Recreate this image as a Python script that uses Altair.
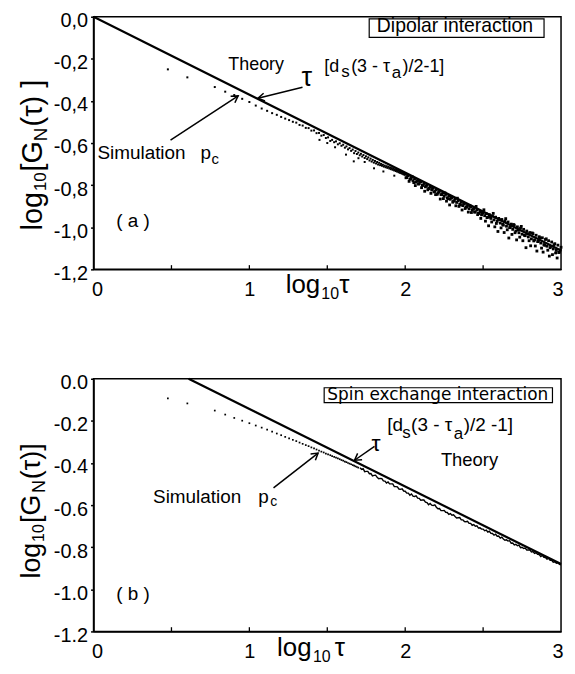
import altair as alt
import pandas as pd

FONT = "Liberation Sans"
FONT_B = "DejaVu Sans"

# ---------------- axes ----------------
x_tick_labels = [0, 1, 2, 3]
x_minor_ticks = [0.5, 1.0, 1.5, 2.0, 2.5]
y_tick_values = [0.0, -0.2, -0.4, -0.6, -0.8, -1.0, -1.2]

# ---------------- panel (a): dipolar ----------------
theory_a_x = [0.0, 3.0]
theory_a_y = [0.0, -1.11]

sim_a_x = [0.477, 0.602, 0.778, 0.845, 0.903, 0.954, 1.000,
           1.041, 1.079, 1.114, 1.146, 1.176, 1.204, 1.230, 1.255, 1.279, 1.301,
           1.322, 1.342, 1.362, 1.380, 1.398, 1.415, 1.431, 1.447, 1.462, 1.477,
           1.491, 1.505, 1.519, 1.531, 1.544, 1.556, 1.568, 1.580, 1.591, 1.602,
           1.613, 1.623, 1.633, 1.643, 1.653, 1.663, 1.672, 1.681, 1.690, 1.699,
           1.708, 1.716, 1.724, 1.732, 1.740, 1.748, 1.756, 1.763, 1.771, 1.778,
           1.785, 1.792, 1.799, 1.806, 1.813, 1.820, 1.826, 1.833, 1.839, 1.845,
           1.851, 1.857, 1.863, 1.869, 1.875, 1.881, 1.886, 1.892, 1.898, 1.903,
           1.908, 1.914, 1.919, 1.924, 1.929, 1.934, 1.940, 1.944, 1.949, 1.954,
           1.959, 1.964, 1.968, 1.973, 1.978, 1.982, 1.987, 1.991, 1.996]
sim_a_y = [-0.250, -0.288, -0.334, -0.356, -0.372, -0.390, -0.405,
           -0.422, -0.436, -0.447, -0.458, -0.466, -0.476, -0.484, -0.491, -0.499, -0.503,
           -0.514, -0.517, -0.528, -0.529, -0.541, -0.540, -0.553, -0.552, -0.565, -0.562,
           -0.576, -0.573, -0.590, -0.585, -0.596, -0.592, -0.606, -0.601, -0.613, -0.608,
           -0.622, -0.616, -0.630, -0.624, -0.637, -0.631, -0.648, -0.638, -0.652, -0.645,
           -0.658, -0.651, -0.664, -0.657, -0.671, -0.663, -0.676, -0.668, -0.683, -0.674,
           -0.688, -0.680, -0.693, -0.685, -0.697, -0.690, -0.702, -0.694, -0.705, -0.699,
           -0.708, -0.703, -0.712, -0.707, -0.715, -0.710, -0.718, -0.713, -0.721, -0.716,
           -0.724, -0.719, -0.727, -0.722, -0.730, -0.725, -0.733, -0.728, -0.736, -0.731,
           -0.739, -0.734, -0.742, -0.737, -0.745, -0.740, -0.748, -0.743, -0.750]

sim_a_stray_x = [1.45, 1.50, 1.55, 1.62, 1.67, 1.70, 1.74, 1.80, 1.86, 1.93]
sim_a_stray_y = [-0.585, -0.600, -0.620, -0.655, -0.687, -0.672, -0.690, -0.720, -0.735, -0.755]

cloud1_x = [2.00, 2.01, 2.02, 2.03, 2.04, 2.05, 2.06, 2.07, 2.08, 2.09,
            2.10, 2.11, 2.12, 2.13, 2.14, 2.15, 2.16, 2.17, 2.18, 2.19,
            2.20, 2.21, 2.22, 2.23, 2.24, 2.25, 2.26, 2.27, 2.28, 2.29,
            2.30, 2.31, 2.32, 2.33, 2.34, 2.35, 2.36, 2.37, 2.38, 2.39,
            2.40, 2.41, 2.42, 2.43, 2.44, 2.45, 2.46, 2.47, 2.48, 2.49,
            2.50, 2.51, 2.52, 2.53, 2.54, 2.55, 2.56, 2.57, 2.58, 2.59,
            2.60, 2.61, 2.62, 2.63, 2.64, 2.65, 2.66, 2.67, 2.68, 2.69,
            2.70, 2.71, 2.72, 2.73, 2.74, 2.75, 2.76, 2.77, 2.78, 2.79,
            2.80, 2.81, 2.82, 2.83, 2.84, 2.85, 2.86, 2.87, 2.88, 2.89,
            2.90, 2.91, 2.92, 2.93, 2.94, 2.95, 2.96, 2.97, 2.98, 2.99, 3.00]
cloud1_y = [-0.748, -0.764, -0.755, -0.771, -0.763, -0.779, -0.770, -0.786, -0.778, -0.793,
            -0.785, -0.801, -0.792, -0.808, -0.800, -0.816, -0.807, -0.823, -0.815, -0.830,
            -0.822, -0.838, -0.829, -0.845, -0.837, -0.853, -0.844, -0.860, -0.852, -0.867,
            -0.859, -0.875, -0.866, -0.882, -0.874, -0.890, -0.881, -0.897, -0.889, -0.904,
            -0.896, -0.912, -0.903, -0.919, -0.911, -0.927, -0.918, -0.934, -0.926, -0.941,
            -0.933, -0.945, -0.935, -0.952, -0.940, -0.958, -0.946, -0.965, -0.952, -0.972,
            -0.958, -0.980, -0.963, -0.990, -0.970, -0.995, -0.975, -1.002, -0.985, -1.010,
            -0.990, -1.018, -0.998, -1.026, -1.004, -1.033, -1.010, -1.040, -1.018, -1.046,
            -1.025, -1.055, -1.030, -1.060, -1.038, -1.068, -1.045, -1.075, -1.050, -1.082,
            -1.058, -1.090, -1.064, -1.097, -1.070, -1.103, -1.078, -1.110, -1.085, -1.118, -1.095]

cloud2_x = [2.005, 2.015, 2.025, 2.035, 2.045, 2.055, 2.065, 2.075, 2.085, 2.095,
            2.105, 2.115, 2.125, 2.135, 2.145, 2.155, 2.165, 2.175, 2.185, 2.195,
            2.205, 2.215, 2.225, 2.235, 2.245, 2.255, 2.265, 2.275, 2.285, 2.295,
            2.305, 2.315, 2.325, 2.335, 2.345, 2.355, 2.365, 2.375, 2.385, 2.395,
            2.405, 2.415, 2.425, 2.435, 2.445, 2.455, 2.465, 2.475, 2.485, 2.495,
            2.505, 2.515, 2.525, 2.535, 2.545, 2.555, 2.565, 2.575, 2.585, 2.595,
            2.605, 2.615, 2.625, 2.635, 2.645, 2.655, 2.665, 2.675, 2.685, 2.695,
            2.705, 2.715, 2.725, 2.735, 2.745, 2.755, 2.765, 2.775, 2.785, 2.795,
            2.805, 2.815, 2.825, 2.835, 2.845, 2.855, 2.865, 2.875, 2.885, 2.895,
            2.905, 2.915, 2.925, 2.935, 2.945, 2.955, 2.965, 2.975, 2.985, 2.995]
cloud2_y = [-0.765, -0.754, -0.782, -0.771, -0.760, -0.788, -0.802, -0.781, -0.795, -0.783,
            -0.812, -0.801, -0.829, -0.803, -0.822, -0.815, -0.839, -0.813, -0.832, -0.845,
            -0.844, -0.833, -0.866, -0.845, -0.864, -0.837, -0.876, -0.865, -0.894, -0.857,
            -0.881, -0.875, -0.898, -0.862, -0.901, -0.894, -0.918, -0.887, -0.911, -0.904,
            -0.928, -0.897, -0.930, -0.914, -0.928, -0.901, -0.940, -0.934, -0.958, -0.931,
            -0.917, -0.971, -0.954, -0.993, -0.952, -0.975, -0.934, -0.998, -0.982, -1.020,
            -0.964, -1.003, -0.986, -1.025, -0.959, -1.012, -1.051, -1.000, -1.034, -0.987,
            -1.026, -1.060, -1.013, -1.047, -0.996, -1.064, -1.038, -1.097, -1.031, -1.064,
            -1.088, -1.027, -1.065, -1.089, -1.113, -1.066, -1.050, -1.099, -1.118, -1.086,
            -1.055, -1.109, -1.137, -1.091, -1.130, -1.083, -1.122, -1.146, -1.120, -1.108]

# ---------------- panel (b): spin exchange ----------------
theory_b_x = [0.61, 3.0]
theory_b_y = [0.0, -0.88]

sim_b_x = [0.477, 0.602, 0.778, 0.845, 0.903, 0.954, 1.000,
           1.041, 1.079, 1.114, 1.146, 1.176, 1.204, 1.230, 1.255, 1.279, 1.301,
           1.322, 1.342, 1.362, 1.380, 1.398, 1.415, 1.431, 1.447, 1.462, 1.477,
           1.491, 1.505, 1.519, 1.531, 1.544, 1.556, 1.568, 1.580, 1.591, 1.602,
           1.613, 1.623, 1.633, 1.643, 1.653, 1.663, 1.672, 1.681, 1.690, 1.699]
sim_b_y = [-0.093, -0.117, -0.151, -0.170, -0.186, -0.199, -0.211,
           -0.222, -0.232, -0.242, -0.251, -0.260, -0.268, -0.276, -0.283, -0.290, -0.296,
           -0.303, -0.309, -0.315, -0.320, -0.326, -0.331, -0.336, -0.341, -0.346, -0.350,
           -0.355, -0.359, -0.363, -0.367, -0.371, -0.375, -0.378, -0.382, -0.386, -0.389,
           -0.393, -0.396, -0.400, -0.403, -0.406, -0.410, -0.413, -0.416, -0.419, -0.422]

simline_b_x = [1.71, 1.72, 1.73, 1.74, 1.75, 1.76, 1.77, 1.78, 1.79, 1.80,
               1.81, 1.82, 1.83, 1.84, 1.85, 1.86, 1.87, 1.88, 1.89, 1.90,
               1.91, 1.92, 1.93, 1.94, 1.95, 1.96, 1.97, 1.98, 1.99,
               2.00, 2.01, 2.02, 2.03, 2.04, 2.05, 2.06, 2.07, 2.08, 2.09,
               2.10, 2.11, 2.12, 2.13, 2.14, 2.15, 2.16, 2.17, 2.18, 2.19,
               2.20, 2.21, 2.22, 2.23, 2.24, 2.25, 2.26, 2.27, 2.28, 2.29,
               2.30, 2.31, 2.32, 2.33, 2.34, 2.35, 2.36, 2.37, 2.38, 2.39,
               2.40, 2.41, 2.42, 2.43, 2.44, 2.45, 2.46, 2.47, 2.48, 2.49,
               2.50, 2.51, 2.52, 2.53, 2.54, 2.55, 2.56, 2.57, 2.58, 2.59,
               2.60, 2.61, 2.62, 2.63, 2.64, 2.65, 2.66, 2.67, 2.68, 2.69,
               2.70, 2.71, 2.72, 2.73, 2.74, 2.75, 2.76, 2.77, 2.78, 2.79,
               2.80, 2.81, 2.82, 2.83, 2.84, 2.85, 2.86, 2.87, 2.88, 2.89,
               2.90, 2.91, 2.92, 2.93, 2.94, 2.95, 2.96, 2.97, 2.98, 2.99, 3.00]
simline_b_y = [-0.423, -0.430, -0.427, -0.441, -0.440, -0.440, -0.451, -0.450, -0.461, -0.459,
               -0.458, -0.468, -0.475, -0.473, -0.474, -0.485, -0.486, -0.495, -0.490, -0.499,
               -0.499, -0.499, -0.512, -0.512, -0.513, -0.524, -0.525, -0.523, -0.533,
               -0.534, -0.543, -0.543, -0.553, -0.547, -0.557, -0.559, -0.556, -0.567, -0.568,
               -0.577, -0.576, -0.576, -0.586, -0.588, -0.598, -0.592, -0.600, -0.602, -0.599,
               -0.610, -0.617, -0.616, -0.626, -0.626, -0.625, -0.634, -0.635, -0.644, -0.640,
               -0.648, -0.646, -0.654, -0.661, -0.660, -0.659, -0.670, -0.670, -0.678, -0.679,
               -0.677, -0.687, -0.687, -0.696, -0.693, -0.700, -0.698, -0.709, -0.708, -0.714,
               -0.714, -0.722, -0.719, -0.728, -0.724, -0.734, -0.735, -0.743, -0.738, -0.748,
               -0.747, -0.757, -0.752, -0.761, -0.767, -0.765, -0.771, -0.769, -0.781, -0.780,
               -0.789, -0.786, -0.793, -0.790, -0.802, -0.800, -0.806, -0.804, -0.813, -0.813,
               -0.812, -0.823, -0.821, -0.829, -0.826, -0.834, -0.835, -0.844, -0.839, -0.848,
               -0.849, -0.857, -0.853, -0.862, -0.862, -0.871, -0.869, -0.876, -0.874, -0.882, -0.884]

# ---------------- annotations (data coordinates) ----------------
txt_a = ["Theory", "τ", "[d", "s", "(3 - τ", "a", ")/2-1]",
         "Simulation", "p", "c", "( a )", "Dipolar interaction",
         "log", "10", "[G", "N", "(τ) ]",
         "log", "10", "τ"]
txt_a_x = [0.865, 1.335, 1.481, 1.589, 1.653, 1.914, 1.983,
           0.025, 0.687, 0.757, 0.146, 1.818,
           -0.331, -0.305, -0.331, -0.299, -0.331,
           1.233, 1.462, 1.577]
txt_a_y = [-0.255, -0.330, -0.262, -0.286, -0.262, -0.290, -0.262,
           -0.675, -0.675, -0.698, -1.000, -0.072,
           -1.015, -0.828, -0.735, -0.591, -0.521,
           -1.313, -1.341, -1.313]
txt_a_size = [18, 27, 18, 17, 18, 17, 18,
              19, 19, 15, 19, 19.5,
              29, 17, 29, 19, 29,
              26, 16, 26]
txt_a_angle = [0, 0, 0, 0, 0, 0, 0,
               0, 0, 0, 0, 0,
               270, 270, 270, 270, 270,
               0, 0, 0]

txt_b = ["Theory", "τ", "[d", "s", "(3  - τ", "a", ")/2 -1]",
         "Simulation", "p", "c", "( b )",
         "log", "10", "[G", "N", "(τ)]",
         "log", "10", "τ"]
txt_b_x = [2.229, 1.783, 1.885, 1.981, 2.038, 2.312, 2.376,
           0.382, 1.057, 1.134, 0.146,
           -0.344, -0.318, -0.344, -0.312, -0.344,
           1.178, 1.408, 1.548]
txt_b_y = [-0.412, -0.345, -0.250, -0.283, -0.250, -0.288, -0.250,
           -0.590, -0.590, -0.605, -1.049,
           -0.949, -0.775, -0.685, -0.543, -0.477,
           -1.318, -1.346, -1.318]
txt_b_size = [18.5, 23, 19, 17, 19, 17, 19,
              19, 19, 14, 19,
              27, 16, 27, 18, 27,
              26, 16, 26]
txt_b_angle = [0, 0, 0, 0, 0, 0, 0,
               0, 0, 0, 0,
               270, 270, 270, 270, 270,
               0, 0, 0]

box_b_text = ["Spin exchange interaction"]
box_b_text_x = [1.500]
box_b_text_y = [-0.101]

box_a = dict(x=[1.769], x2=[2.891], y=[-0.010], y2=[-0.098])
box_b = dict(x=[1.480], x2=[2.945], y=[-0.0425], y2=[-0.113])

# arrows: tail (x, y) -> head (x2, y2), head direction in degrees
arrow_a = dict(x=[1.341, 0.494], y=[-0.335, -0.586],
               x2=[1.055, 0.928], y2=[-0.387, -0.376], ang=[169.5, 326.6])
arrow_b = dict(x=[1.803, 1.155], y=[-0.321, -0.518],
               x2=[1.675, 1.441], y2=[-0.387, -0.353], ang=[145.0, 322.0])

# ---------------- chart building ----------------
xs = alt.Scale(domain=[0, 3], nice=False, zero=False)
ys = alt.Scale(domain=[-1.2, 0], nice=False, zero=False)

x_axis = alt.Axis(values=x_tick_labels, format="d", title=None, grid=False, ticks=False,
                  labelFlush=True, labelFlushOffset=2, labelPadding=10, labelFontSize=20,
                  labelFont=FONT, labelColor="black", domainColor="black", domainWidth=1.5)


def y_axis(expr):
    return alt.Axis(values=y_tick_values, labelExpr=expr, title=None, grid=False,
                    tickSize=3, tickColor="black", tickWidth=1.5, labelPadding=3,
                    labelOffset=4, labelFontSize=20, labelFont=FONT, labelColor="black",
                    domainColor="black", domainWidth=1.5)


def X(f="x"):
    return alt.X(f"{f}:Q", scale=xs, axis=x_axis)


def make_panel(yax, theory_x, theory_y, point_sets, line_set, box, txt, box_txt, arrows, h):
    layers = []

    def Y(f="y"):
        return alt.Y(f"{f}:Q", scale=ys, axis=yax)

    layers.append(alt.Chart(pd.DataFrame({"x": theory_x, "y": theory_y}))
                  .mark_line(color="black", strokeWidth=2.2).encode(x=X(), y=Y()))
    if line_set is not None:
        layers.append(alt.Chart(pd.DataFrame({"x": line_set[0], "y": line_set[1]}))
                      .mark_line(color="black", strokeWidth=1.4).encode(x=X(), y=Y()))
    for px_, py_, sz in point_sets:
        layers.append(alt.Chart(pd.DataFrame({"x": px_, "y": py_}))
                      .mark_square(color="black", size=sz, opacity=1).encode(x=X(), y=Y()))
    layers.append(alt.Chart(pd.DataFrame({"x": x_minor_ticks,
                                          "y": [-1.2] * len(x_minor_ticks),
                                          "y2": [-1.18] * len(x_minor_ticks)}))
                  .mark_rule(color="black", strokeWidth=1.3)
                  .encode(x=X(), y=Y(), y2="y2:Q"))
    layers.append(alt.Chart(pd.DataFrame(box))
                  .mark_rect(fill="white", stroke="black", strokeWidth=1.2)
                  .encode(x=X(), x2="x2:Q", y=Y(), y2="y2:Q"))
    adf = pd.DataFrame(arrows)
    layers.append(alt.Chart(adf).mark_rule(color="black", strokeWidth=1.5)
                  .encode(x=X(), y=Y(), x2="x2:Q", y2="y2:Q"))
    layers.append(alt.Chart(adf)
                  .mark_point(shape="M -1 -0.6 L 0 0 L -1 0.6", filled=False,
                              color="black", strokeWidth=1.5, size=170, opacity=1)
                  .encode(x=X("x2"), y=Y("y2"), angle=alt.Angle("ang:Q", scale=None)))
    tdf = pd.DataFrame({"x": txt[1], "y": txt[2], "t": txt[0], "s": txt[3], "a": txt[4]})
    layers.append(alt.Chart(tdf)
                  .mark_text(align="left", baseline="alphabetic", font=FONT, color="black")
                  .encode(x=X(), y=Y(), text="t:N",
                          size=alt.Size("s:Q", scale=None),
                          angle=alt.Angle("a:Q", scale=None)))
    if box_txt is not None:
        bdf = pd.DataFrame({"x": box_txt[1], "y": box_txt[2], "t": box_txt[0]})
        layers.append(alt.Chart(bdf)
                      .mark_text(align="left", baseline="alphabetic", font=FONT_B,
                                 fontSize=17, color="black")
                      .encode(x=X(), y=Y(), text="t:N"))
    return alt.layer(*layers).properties(width=470, height=h)


expr_a = "replace(replace(format(datum.value, '.1f'), '\u2212', '-'), '.', ',')"
expr_b = "replace(format(datum.value, '.1f'), '\u2212', '-')"

panel_a = make_panel(
    y_axis(expr_a), theory_a_x, theory_a_y,
    [(sim_a_x, sim_a_y, 4), (sim_a_stray_x, sim_a_stray_y, 4),
     (cloud1_x, cloud1_y, 8), (cloud2_x, cloud2_y, 8)],
    None, box_a,
    (txt_a, txt_a_x, txt_a_y, txt_a_size, txt_a_angle), None, arrow_a, 254)

panel_b = make_panel(
    y_axis(expr_b), theory_b_x, theory_b_y,
    [(sim_b_x, sim_b_y, 3)],
    (simline_b_x, simline_b_y), box_b,
    (txt_b, txt_b_x, txt_b_y, txt_b_size, txt_b_angle),
    (box_b_text, box_b_text_x, box_b_text_y), arrow_b, 254)

chart = (alt.vconcat(panel_a, panel_b, spacing=69)
         .properties(padding={"left": 9, "top": 0, "right": 0, "bottom": 0},
                     background="white")
         .configure_view(stroke="black", strokeWidth=1.5))

chart.save("out.html", embed_options={"renderer": "svg", "actions": False})
